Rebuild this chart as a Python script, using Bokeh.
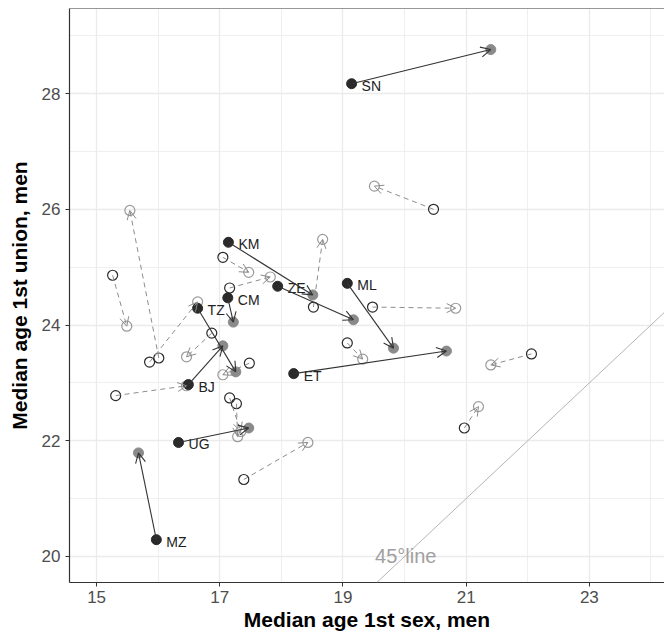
from bokeh.plotting import figure
from bokeh.models import (ColumnDataSource, Arrow, OpenHead, Slope, Label, Span,
                          FixedTicker, Range1d)
from bokeh.core.properties import value
from bokeh.embed import file_html
from bokeh.resources import INLINE

# ---- labelled countries (solid arrows) ----
lab_codes = ["SN", "KM", "ZE", "ML", "ET", "CM", "TZ", "BJ", "UG", "MZ"]
lab_sex_start = [19.14, 17.14, 17.94, 19.07, 18.20, 17.13, 16.64, 16.49, 16.33, 15.97]
lab_union_start = [28.17, 25.43, 24.67, 24.72, 23.16, 24.47, 24.29, 22.97, 21.97, 20.29]
lab_sex_end = [21.40, 18.51, 19.17, 19.82, 20.68, 17.22, 17.26, 17.05, 17.47, 15.68]
lab_union_end = [28.76, 24.52, 24.09, 23.60, 23.55, 24.05, 23.19, 23.64, 22.22, 21.79]

# ---- other countries (dashed arrows) ----
oth_sex_start = [20.47, 16.01, 15.26, 15.86, 15.31, 16.87, 17.05, 17.16, 18.52,
                 17.48, 17.16, 17.27, 17.39, 19.48, 19.07, 22.06, 20.97]
oth_union_start = [26.00, 23.43, 24.86, 23.36, 22.78, 23.86, 25.17, 24.64, 24.31,
                   23.34, 22.74, 22.64, 21.33, 24.31, 23.69, 23.50, 22.22]
oth_sex_end = [19.51, 15.54, 15.49, 16.64, 16.46, 16.46, 17.47, 17.82, 18.67,
               17.05, 17.34, 17.29, 18.43, 20.83, 19.32, 21.40, 21.20]
oth_union_end = [26.40, 25.98, 23.98, 24.40, 22.95, 23.45, 24.91, 24.83, 25.48,
                 23.14, 22.16, 22.07, 21.97, 24.29, 23.41, 23.31, 22.59]

x_major = [15, 17, 19, 21, 23]
x_minor = [16, 18, 20, 22, 24]
y_major = [20, 22, 24, 26, 28]
y_minor = [21, 23, 25, 27, 29]

X_LO, X_HI = 14.56, 24.22
Y_LO, Y_HI = 19.55, 29.47

FONT = "Liberation Sans"

p = figure(width=664, height=633, x_range=Range1d(X_LO, X_HI), y_range=Range1d(Y_LO, Y_HI),
           output_backend="svg", toolbar_location=None,
           min_border_left=69, min_border_right=0, min_border_top=8, min_border_bottom=51)
p.outline_line_color = None
p.background_fill_color = "white"
p.border_fill_color = "white"

p.xaxis.ticker = FixedTicker(ticks=x_major, minor_ticks=x_minor)
p.yaxis.ticker = FixedTicker(ticks=y_major, minor_ticks=y_minor)
for g in (p.xgrid[0], p.ygrid[0]):
    g.grid_line_color = "#ebebeb"
    g.grid_line_width = 1.3
    g.minor_grid_line_color = "#ebebeb"
    g.minor_grid_line_width = 0.8

for ax in (p.xaxis[0], p.yaxis[0]):
    ax.axis_line_color = "#333333"
    ax.axis_line_width = 1.2
    ax.major_tick_line_color = "#333333"
    ax.major_tick_out = 4
    ax.major_tick_in = 0
    ax.minor_tick_line_color = None
    ax.major_label_text_font = FONT
    ax.major_label_text_font_size = "17px"
    ax.major_label_text_color = "#4d4d4d"
    ax.axis_label_text_font = FONT
    ax.axis_label_text_font_size = "21px"
    ax.axis_label_text_font_style = "bold"
    ax.axis_label_text_color = "black"

p.xaxis.axis_label = "Median age 1st sex, men"
p.yaxis.axis_label = "Median age 1st union, men"
p.xaxis.major_label_standoff = 4
p.xaxis.axis_label_standoff = 2
p.yaxis.major_label_standoff = 5
p.yaxis.axis_label_standoff = 8

p.add_layout(Span(location=Y_HI, dimension="width", line_color="#333333", line_width=1.2))

# 45 degree line
p.add_layout(Slope(gradient=1, y_intercept=0, line_color="#b5b5b5", line_width=1))
p.add_layout(Label(x=20.02, y=20.0, text="45°line", text_align="center", text_baseline="middle",
                   text_font=FONT, text_font_size="20px", text_color="#a0a0a0"))

# dashed arrows for other countries
osrc = ColumnDataSource(dict(xs=oth_sex_start, ys=oth_union_start, xe=oth_sex_end, ye=oth_union_end))
p.add_layout(Arrow(x_start="xs", y_start="ys", x_end="xe", y_end="ye", source=osrc,
                   line_color="#8c8c8c", line_width=1, line_dash="5 4",
                   end=OpenHead(size=9, line_color="#8c8c8c", line_width=1)))
p.scatter("xs", "ys", source=osrc, size=10, fill_color=None, line_color="#2a2a2a", line_width=1.2)
p.scatter("xe", "ye", source=osrc, size=10, fill_color=None, line_color="#9a9a9a", line_width=1.2)

# solid arrows for labelled countries
lsrc = ColumnDataSource(dict(xs=lab_sex_start, ys=lab_union_start, xe=lab_sex_end, ye=lab_union_end,
                             code=lab_codes))
p.add_layout(Arrow(x_start="xs", y_start="ys", x_end="xe", y_end="ye", source=lsrc,
                   line_color="#333333", line_width=1.1,
                   end=OpenHead(size=10, line_color="#333333", line_width=1.1)))
p.scatter("xe", "ye", source=lsrc, size=10, fill_color="#8a8a8a", line_color="#8a8a8a")
p.scatter("xs", "ys", source=lsrc, size=10, fill_color="#2a2a2a", line_color="#2a2a2a")
p.text("xs", "ys", text="code", source=lsrc, x_offset=10, y_offset=2,
       text_font=value(FONT), text_font_size="14px", text_color="#222222",
       text_align="left", text_baseline="middle")

open("out.html", "w").write(file_html(p, INLINE))
